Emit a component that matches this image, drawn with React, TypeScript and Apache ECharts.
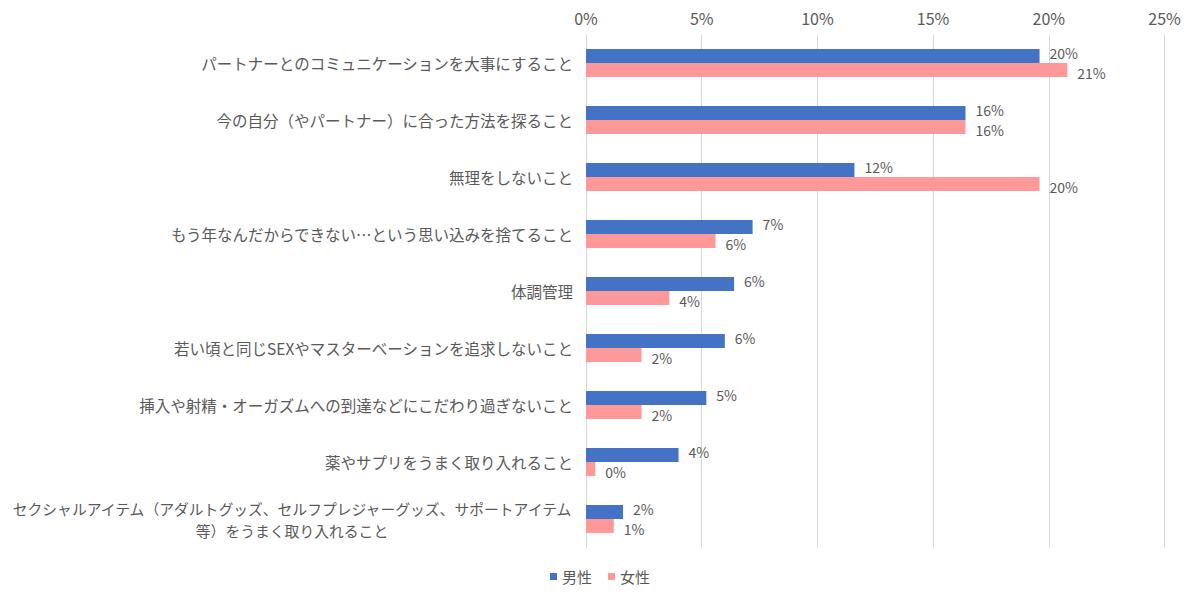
import React, { useEffect, useRef } from 'react';
import * as echarts from 'echarts';

const categories: string[] = [
  'パートナーとのコミュニケーションを大事にすること',
  '今の自分（やパートナー）に合った方法を探ること',
  '無理をしないこと',
  'もう年なんだからできない…という思い込みを捨てること',
  '体調管理',
  '若い頃と同じSEXやマスターベーションを追求しないこと',
  '挿入や射精・オーガズムへの到達などにこだわり過ぎないこと',
  '薬やサプリをうまく取り入れること',
  'セクシャルアイテム（アダルトグッズ、セルフプレジャーグッズ、サポートアイテム\n等）をうまく取り入れること',
];

const maleValues: number[] = [19.6, 16.4, 11.6, 7.2, 6.4, 6.0, 5.2, 4.0, 1.6];
const femaleValues: number[] = [20.8, 16.4, 19.6, 5.6, 3.6, 2.4, 2.4, 0.4, 1.2];

const seriesNames = ['男性', '女性'];
const tickLabels = ['0%', '5%', '10%', '15%', '20%', '25%'];

const FONT = '"Noto Sans CJK JP", "Noto Sans", sans-serif';
const TEXT_COLOR = '#595959';

const App: React.FC = () => {
  const chartRef = useRef<HTMLDivElement>(null);

  useEffect(() => {
    document.body.style.margin = '0';
    if (!chartRef.current) return;

    const chart = echarts.init(chartRef.current, undefined, { renderer: 'svg' });

    // male/female labels are pushed a little apart so they don't collide
    const barLabel = (dy: number) => ({
      show: true,
      position: 'right' as const,
      distance: 10,
      offset: [0, dy],
      color: TEXT_COLOR,
      fontSize: 14,
      lineHeight: 14,
      fontFamily: FONT,
      formatter: (p: any) => `${Math.round(p.value)}%`,
    });

    const option: echarts.EChartsOption = {
      animation: false,
      textStyle: { fontFamily: FONT },
      grid: {
        left: 586,
        right: 35.5,
        top: 34.5,
        bottom: 52.5,
      },
      legend: {
        bottom: 11,
        left: 'center',
        icon: 'rect',
        itemWidth: 7,
        itemHeight: 7,
        itemGap: 16,
        textStyle: { color: TEXT_COLOR, fontSize: 15, fontFamily: FONT },
        data: seriesNames,
      },
      xAxis: {
        type: 'value',
        position: 'top',
        min: 0,
        max: 25,
        interval: 5,
        axisLine: { show: false },
        axisTick: { show: false },
        axisLabel: {
          color: TEXT_COLOR,
          fontSize: 16,
          margin: 9,
          formatter: (v: number) => tickLabels[Math.round(v / 5)] ?? `${v}%`,
        },
        splitLine: { lineStyle: { color: '#d9d9d9' } },
      },
      yAxis: {
        type: 'category',
        inverse: true,
        data: categories,
        axisTick: { show: false },
        axisLine: { lineStyle: { color: '#d9d9d9' } },
        axisLabel: {
          color: TEXT_COLOR,
          fontSize: 15.5,
          margin: 13,
          lineHeight: 22,
          formatter: (v: string) => {
            if (!v.includes('\n')) return v;
            const [a, b] = v.split('\n');
            return `{l|${a}}\n{l|${b}}`;
          },
          rich: {
            l: {
              width: 562,
              align: 'center',
              fontSize: 14.8,
              lineHeight: 22,
              color: TEXT_COLOR,
              fontFamily: FONT,
            },
          },
        },
      },
      series: [
        {
          name: seriesNames[0],
          type: 'bar',
          data: maleValues,
          barGap: '0%',
          barCategoryGap: '51%',
          itemStyle: { color: '#4472C4' },
          label: barLabel(-3),
        },
        {
          name: seriesNames[1],
          type: 'bar',
          data: femaleValues,
          barGap: '0%',
          barCategoryGap: '51%',
          itemStyle: { color: '#FF9999' },
          label: barLabel(3),
        },
      ],
    };

    chart.setOption(option);

    return () => {
      chart.dispose();
    };
  }, []);

  return <div ref={chartRef} style={{ width: 1200, height: 600 }} />;
};

export default App;
